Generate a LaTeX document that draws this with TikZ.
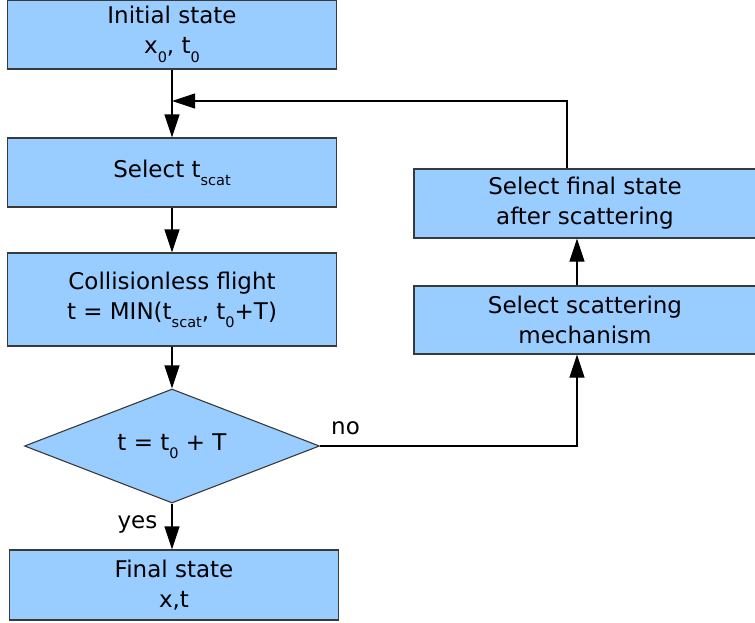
\documentclass[tikz,border=0pt]{standalone}
\usepackage{fontspec}
\setmainfont{DejaVu Sans}
\usetikzlibrary{shapes.geometric,arrows.meta}
\definecolor{boxfill}{HTML}{99CCFF}
\definecolor{edge}{HTML}{3A3A3A}
\newcommand\sbs[1]{\raisebox{-0.36em}{\fontsize{14.5}{14.5}\selectfont #1}}
\begin{document}
\begin{tikzpicture}[x=1pt,y=-1pt,
  every node/.style={font=\fontsize{23}{30}\selectfont},
  procbox/.style={draw=edge,line width=1.1pt,fill=boxfill,align=center,inner sep=0pt},
  decbox/.style={draw=edge,line width=1.1pt,fill=boxfill,shape=diamond,aspect=2.59,inner sep=0pt,minimum width=295pt,minimum height=114pt},
  link/.style={draw=black,line width=1.1pt},
  arr/.style={link,-{Triangle[length=23pt,width=15pt]}},
  lbl/.style={inner sep=0pt}
]
\useasboundingbox (0,0) rectangle (755,622);
\node[procbox,minimum width=329pt,minimum height=69pt] (init) at (172,34.5) {Initial state\\x\sbs{0}, t\sbs{0}};
\node[procbox,minimum width=329pt,minimum height=69pt] (sel) at (172,172.5) {Select t\sbs{scat}};
\node[procbox,minimum width=329pt,minimum height=93pt] (coll) at (172,299.5) {Collisionless flight\\t = MIN(t\sbs{scat}, t\sbs{0}+T)};
\node[decbox] (dia) at (172,446) {t = t\sbs{0} + T};
\node[procbox,minimum width=329pt,minimum height=70pt] (fin) at (174,585) {Final state\\x,t};
\node[procbox,minimum width=342pt,minimum height=69pt] (r1) at (585,203.5) {Select final state\\after scattering};
\node[procbox,minimum width=342pt,minimum height=68pt] (r2) at (585,320) {Select scattering\\mechanism};
\coordinate (fb) at (172,101);
\coordinate (nocorner) at (577,446);
\draw[arr] (init.south) -- (sel.north);
\draw[arr] (sel.south) -- (coll.north);
\draw[arr] (coll.south) -- (dia.north);
\draw[arr] (dia.south) -- (dia.south |- fin.north);
\draw[arr] ([xshift=-18pt]r1.north) |- (fb);
\draw[arr] (dia.east) -- (nocorner) -- (nocorner |- r2.south);
\draw[arr] ([xshift=-8pt]r2.north) -- ([xshift=-8pt]r1.south);
\node[lbl,anchor=base] (yes) at (137.5,528) {yes};
\node[lbl,anchor=base] (no) at (345.5,434) {no};
\end{tikzpicture}
\end{document}
